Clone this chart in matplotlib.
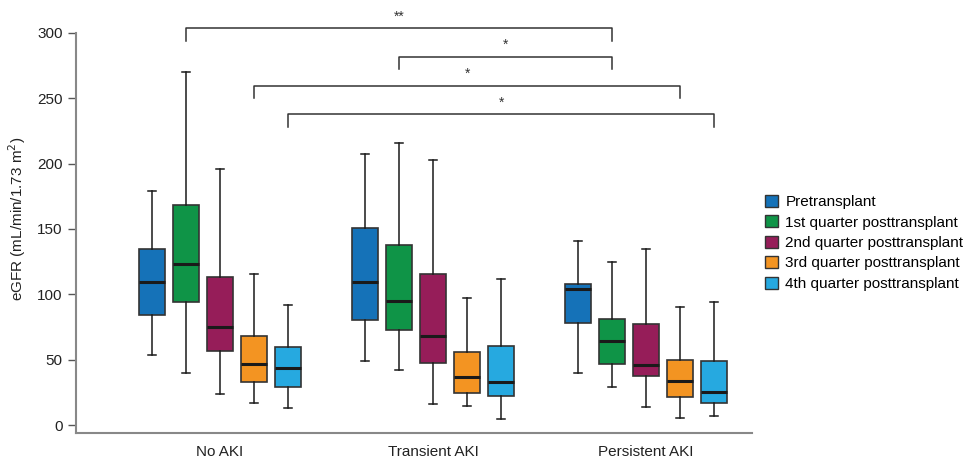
import numpy as np
import matplotlib.pyplot as plt
from matplotlib.patches import Patch

plt.rcParams['font.family'] = ['Liberation Sans', 'DejaVu Sans']

groups = ['No AKI', 'Transient AKI', 'Persistent AKI']
series = ['Pretransplant', '1st quarter posttransplant', '2nd quarter posttransplant',
          '3rd quarter posttransplant', '4th quarter posttransplant']
colors = ['#1572b8', '#0f9447', '#961d59', '#f39422', '#26a9e0']

# box stats per series, one value per group (No AKI, Transient, Persistent)
whislo = [[53.5, 49, 40], [40, 42, 29], [24, 16, 14], [17, 15, 6], [13.5, 4.6, 7]]
q1 = [[84, 80.5, 78], [94, 73, 46.5], [56.5, 47.5, 38], [33, 24.5, 22], [29.5, 22.5, 17]]
med = [[109.5, 109.5, 104], [123, 95, 64.5], [75, 68.5, 46], [46.5, 37, 34], [44, 33, 25.5]]
q3 = [[134.5, 150.5, 108], [168.5, 137.5, 81], [113, 115.5, 77.5], [68, 56, 50], [60, 60.5, 49.5]]
whishi = [[179, 207.5, 141], [270, 216, 124.5], [196, 203, 135], [116, 97, 90.5], [92, 112, 94.5]]

# significance brackets: (group, series) start, (group, series) end, label
sig_start = [(0, 1), (1, 1), (0, 3), (0, 4)]
sig_end = [(2, 1), (2, 1), (2, 3), (2, 4)]
sig_label = ['**', '*', '*', '*']
sig_y = [303.3, 281.4, 259.4, 237.6]

step = 0.16
width = 0.121

fig = plt.figure(figsize=(9.64, 4.62), dpi=100)
ax = fig.add_axes([76 / 964, 29.3 / 462, 676 / 964, 427.7 / 462])

def xpos(g, s):
    return g + (s - 2) * step

for s in range(len(series)):
    stats = []
    for g in range(len(groups)):
        stats.append(dict(whislo=whislo[s][g], q1=q1[s][g], med=med[s][g],
                          q3=q3[s][g], whishi=whishi[s][g], fliers=[]))
    pos = [xpos(g, s) for g in range(len(groups))]
    ax.bxp(stats, positions=pos, widths=width, patch_artist=True,
           showfliers=False, capwidths=0.038,
           boxprops=dict(facecolor=colors[s], edgecolor='#333333', linewidth=1.2),
           medianprops=dict(color='#1a1a1a', linewidth=2.2),
           whiskerprops=dict(color='#1a1a1a', linewidth=1.1),
           capprops=dict(color='#1a1a1a', linewidth=1.1))

for (g0, s0), (g1, s1), lab, y in zip(sig_start, sig_end, sig_label, sig_y):
    x0, x1 = xpos(g0, s0), xpos(g1, s1)
    ax.plot([x0, x0, x1, x1], [y - 9.5, y, y, y - 9.5], color='#333333',
            linewidth=1.1, clip_on=False)
    ax.text((x0 + x1) / 2, y + 3.8, lab, ha='center', va='bottom', fontsize=10,
            color='#333333')

ax.set_xlim(-0.676, 2.498)
ax.set_ylim(-5.6, 321.1)
ax.set_yticks(np.arange(0, 301, 50))
ax.set_xticks(range(len(groups)))
ax.set_xticklabels(groups)
ax.tick_params(axis='x', length=0, labelsize=11, pad=9, colors='#222222')
ax.tick_params(axis='y', length=6, width=1, color='#555555', labelsize=11,
               labelcolor='#222222')
ax.set_ylabel('eGFR (mL/min/1.73 m$^2$)', fontsize=11, color='#222222', labelpad=7)

ax.spines['top'].set_visible(False)
ax.spines['right'].set_visible(False)
for side in ['left', 'bottom']:
    ax.spines[side].set_color('#888888')
    ax.spines[side].set_linewidth(1.5)
ax.spines['left'].set_bounds(-5.6, 300)

handles = [Patch(facecolor=c, edgecolor='#333333', label=l) for c, l in zip(colors, series)]
fig.legend(handles=handles, loc='upper left', bbox_to_anchor=(757 / 964, 1 - 187 / 462),
           frameon=False, fontsize=11, handlelength=0.85, handleheight=0.85,
           handletextpad=0.5, labelspacing=0.4, borderpad=0)

fig.savefig('out.png', dpi=100)
